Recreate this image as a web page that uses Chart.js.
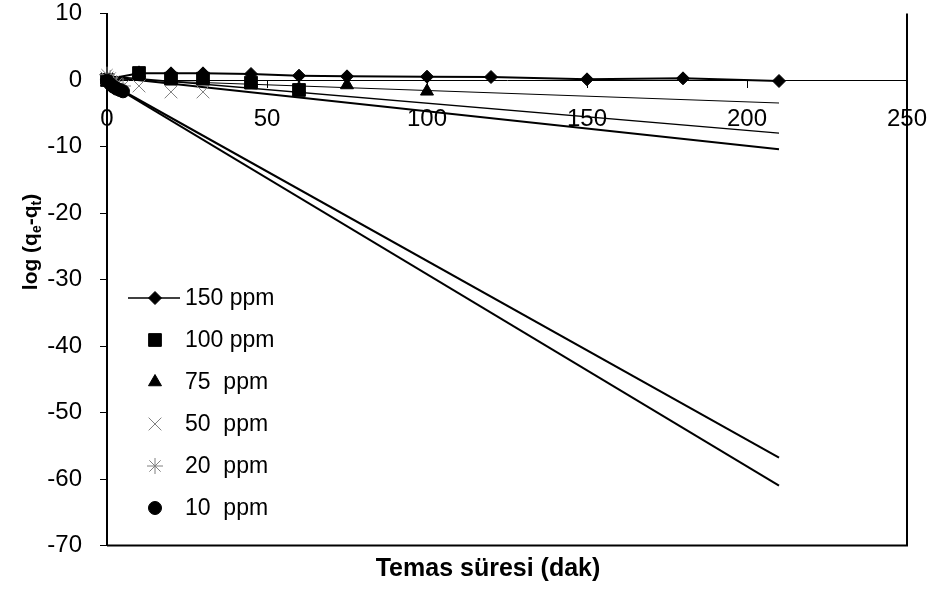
<!DOCTYPE html>
<html>
<head>
<meta charset="utf-8">
<script src="https://cdn.jsdelivr.net/npm/chart.js@4.4.1/dist/chart.umd.min.js"></script>
<style>
  html, body { margin: 0; padding: 0; background: #fff; }
  #wrap { width: 936px; height: 592px; }
</style>
</head>
<body>
<div id="wrap"><canvas id="chart" width="936" height="592"></canvas></div>
<script>
// contact time (min) and log(qe-qt) for each concentration
const t150 = [0, 10, 20, 30, 45, 60, 75, 100, 120, 150, 180, 210];
const y150 = [0.1, 1.0, 1.0, 1.0, 0.9, 0.65, 0.55, 0.5, 0.45, 0.1, 0.25, -0.15];
const t100 = [0, 10, 20, 30, 45, 60];
const y100 = [0, 1.05, 0.2, 0.2, -0.4, -1.5];
const t75 = [0, 10, 20, 30, 45, 60, 75, 100];
const y75 = [0, 1.0, 0.2, 0.2, -0.4, -1.3, -0.75, -1.7];
const t50 = [0, 10, 20, 30];
const y50 = [0.3, -0.9, -1.8, -1.8];
const t20 = [0, 1, 2, 3, 5];
const y20 = [0.8, 0.3, -0.2, -0.5, -0.9];
const t10 = [0, 1, 2, 3, 4, 5];
const y10 = [-0.1, -0.6, -1.0, -1.3, -1.5, -1.7];

const trendT = [0, 210];
const trend75 = [0.13, -3.46];
const trend100 = [0.6, -8.0];
const trend50 = [0.5, -10.4];
const trend20 = [-0.3, -56.8];
const trend10 = [-0.3, -61.0];

const seriesLabels = ['150 ppm', '100 ppm', '75  ppm', '50  ppm', '20  ppm', '10  ppm'];
const xTicks = [0, 50, 100, 150, 200, 250];
const yTicks = [10, 0, -10, -20, -30, -40, -50, -60, -70];

const FONT = '"Liberation Sans", Arial, sans-serif';
const GREY = '#808080';

function pts(xs, ys) {
    return xs.map((x, i) => ({ x: x, y: ys[i] }));
}

function markers(label, xs, ys, style, radius, color, order) {
    return {
        label: label,
        data: pts(xs, ys),
        showLine: false,
        pointStyle: style,
        pointRadius: radius,
        pointBackgroundColor: color,
        pointBorderColor: color,
        pointBorderWidth: 1,
        clip: false,
        order: order
    };
}

function trend(ys, width) {
    return {
        label: '',
        data: pts(trendT, ys),
        showLine: true,
        borderColor: '#000',
        borderWidth: width,
        pointRadius: 0,
        order: 20
    };
}

const s150 = markers(seriesLabels[0], t150, y150, 'rectRot', 6.5, '#000', 6);
s150.showLine = true;
s150.borderColor = '#000';
s150.borderWidth = 2;

const datasets = [
    s150,
    markers(seriesLabels[1], t100, y100, 'rect', 9, '#000', 5),
    markers(seriesLabels[2], t75, y75, 'triangle', 7.5, '#000', 4),
    markers(seriesLabels[3], t50, y50, 'crossRot', 9, GREY, 3),
    markers(seriesLabels[4], t20, y20, 'star', 8, GREY, 2),
    markers(seriesLabels[5], t10, y10, 'circle', 6.5, '#000', 1),
    trend(trend75, 1),
    trend(trend100, 1.3),
    trend(trend50, 2),
    trend(trend20, 2),
    trend(trend10, 2)
];

// frame lines, axis titles and the legend box
const extrasPlugin = {
    id: 'extras',
    afterDraw(chart) {
        const ctx = chart.ctx;
        const a = chart.chartArea;
        ctx.save();

        // right and bottom edges of the plot area
        ctx.strokeStyle = '#000';
        ctx.lineWidth = 2;
        ctx.beginPath();
        ctx.moveTo(a.right, a.top);
        ctx.lineTo(a.right, a.bottom);
        ctx.lineTo(a.left, a.bottom);
        ctx.stroke();

        // x title
        ctx.fillStyle = '#000';
        ctx.font = 'bold 25px ' + FONT;
        ctx.textAlign = 'center';
        ctx.textBaseline = 'middle';
        ctx.fillText('Temas süresi (dak)', 488, 569);

        // y title with subscripts
        const parts = [['log (q', false], ['e', true], ['-q', false], ['t', true], [')', false]];
        const big = 'bold 21px ' + FONT;
        const small = 'bold 14px ' + FONT;
        let total = 0;
        parts.forEach(p => {
            ctx.font = p[1] ? small : big;
            total += ctx.measureText(p[0]).width;
        });
        ctx.translate(30, 242);
        ctx.rotate(-Math.PI / 2);
        ctx.textAlign = 'left';
        ctx.textBaseline = 'alphabetic';
        let x = -total / 2;
        parts.forEach(p => {
            ctx.font = p[1] ? small : big;
            ctx.fillText(p[0], x, p[1] ? 11 : 7);
            x += ctx.measureText(p[0]).width;
        });
        ctx.setTransform(1, 0, 0, 1, 0, 0);

        // legend
        const rows = [298, 340, 382, 424, 466, 508];
        ctx.font = '23px ' + FONT;
        ctx.textAlign = 'left';
        ctx.textBaseline = 'middle';
        for (let i = 0; i < 6; i++) {
            const ds = chart.data.datasets[i];
            const y = rows[i];
            if (ds.showLine) {
                ctx.strokeStyle = '#000';
                ctx.lineWidth = 1.5;
                ctx.beginPath();
                ctx.moveTo(128, y);
                ctx.lineTo(180, y);
                ctx.stroke();
            }
            ctx.fillStyle = ds.pointBackgroundColor;
            ctx.strokeStyle = ds.pointBorderColor;
            ctx.lineWidth = 1;
            Chart.helpers.drawPoint(ctx, {
                pointStyle: ds.pointStyle,
                radius: ds.pointRadius,
                rotation: 0,
                borderWidth: 1
            }, 155, y);
            ctx.fillStyle = '#000';
            ctx.fillText(ds.label, 185, y + 1);
        }
        ctx.restore();
    }
};

const ctx = document.getElementById('chart').getContext('2d');
const chart = new Chart(ctx, {
    type: 'scatter',
    data: { datasets: datasets },
    options: {
        responsive: false,
        animation: false,
        devicePixelRatio: 1,
        layout: {
            padding: { left: 0, top: 13.5, right: 29, bottom: 46.5 }
        },
        scales: {
            x: {
                type: 'linear',
                min: 0,
                max: 250,
                position: { y: 0 },
                afterBuildTicks: s => { s.ticks = xTicks.map(v => ({ value: v })); },
                afterFit: s => { s.paddingLeft = 0; s.paddingRight = 0; },
                grid: { drawOnChartArea: false, drawTicks: true, tickLength: 7, color: '#000', lineWidth: 1 },
                border: { color: '#000', width: 1 },
                ticks: {
                    color: '#000',
                    padding: 18,
                    maxRotation: 0,
                    font: { family: FONT, size: 24 }
                }
            },
            y: {
                type: 'linear',
                min: -70,
                max: 10,
                position: 'left',
                afterBuildTicks: s => { s.ticks = yTicks.map(v => ({ value: v })); },
                afterFit: s => { s.width = 107; s.paddingTop = 0; s.paddingBottom = 0; },
                grid: { drawOnChartArea: false, drawTicks: true, tickLength: 7, color: '#000', lineWidth: 1 },
                border: { color: '#000', width: 2 },
                ticks: {
                    color: '#000',
                    padding: 18,
                    font: { family: FONT, size: 24 }
                }
            }
        },
        plugins: {
            legend: { display: false },
            tooltip: { enabled: false }
        }
    },
    plugins: [extrasPlugin]
});
</script>
</body>
</html>
